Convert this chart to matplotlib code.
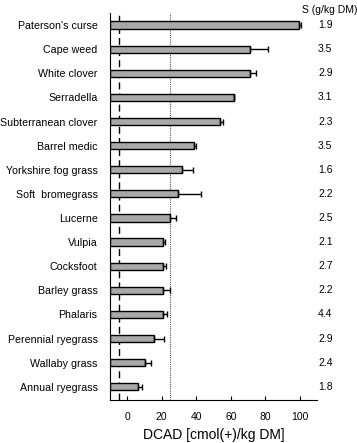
import matplotlib
matplotlib.use('Agg')
from matplotlib import pyplot as plt
import numpy as np

plt.rcParams['font.family'] = ['Liberation Sans', 'DejaVu Sans']

species = ["Paterson's curse", 'Cape weed', 'White clover', 'Serradella',
           'Subterranean clover', 'Barrel medic', 'Yorkshire fog grass',
           'Soft  bromegrass', 'Lucerne', 'Vulpia', 'Cocksfoot', 'Barley grass',
           'Phalaris', 'Perennial ryegrass', 'Wallaby grass', 'Annual ryegrass']
dcad = [99.5, 71.4, 71.2, 62.0, 54.0, 38.7, 31.5, 29.6, 24.8, 21.0, 21.0,
        21.0, 20.6, 15.6, 10.0, 6.2]
dcad_err = [1.0, 10.0, 3.5, 0.0, 1.5, 1.0, 6.5, 13.0, 3.5, 0.6, 1.5, 4.0,
            2.5, 5.7, 4.0, 2.6]
sulfur = ['1.9', '3.5', '2.9', '3.1', '2.3', '3.5', '1.6', '2.2', '2.5',
          '2.1', '2.7', '2.2', '4.4', '2.9', '2.4', '1.8']
xticks = [0, 20, 40, 60, 80, 100]

xmin, xmax = -10, 110
y = np.arange(len(species))

fig = plt.figure(figsize=(3.57, 4.43), dpi=100)
ax = fig.add_axes([110 / 357, 43 / 443, 207 / 357, 387 / 443])

vals = np.array(dcad)
ax.barh(y, vals - xmin, left=xmin, height=0.3, color='#a8a8a8',
        edgecolor='black', linewidth=1.0, zorder=2)
ax.errorbar(vals, y, xerr=[np.zeros(len(vals)), dcad_err], fmt='none',
            ecolor='black', elinewidth=1.0, capsize=2, capthick=1.0, zorder=3)

ax.axvline(-5, color='black', linestyle=(0, (5, 3)), linewidth=1.0, zorder=1)
ax.axvline(25, color='#555555', linestyle=(0, (1, 1)), linewidth=0.8, zorder=1)

ax.set_xlim(xmin, xmax)
ax.set_ylim(15.55, -0.5)
ax.set_yticks(y)
ax.set_yticklabels(species, fontsize=7.7)
ax.tick_params(axis='y', length=0, pad=9)
ax.set_xticks(xticks)
ax.tick_params(axis='x', direction='in', length=3, labelsize=7.5, pad=9)
ax.spines['top'].set_visible(False)
ax.spines['right'].set_visible(False)
ax.set_xlabel('DCAD [cmol(+)/kg DM]', fontsize=10, labelpad=4)

for i, s in enumerate(sulfur):
    ax.text(1.005, y[i], s, transform=ax.get_yaxis_transform(),
            ha='left', va='center', fontsize=7.5)
fig.text(302 / 357, 1 - 10 / 443, 'S (g/kg DM)', ha='left', va='center',
         fontsize=7.5)

fig.savefig('out.png', dpi=100)
